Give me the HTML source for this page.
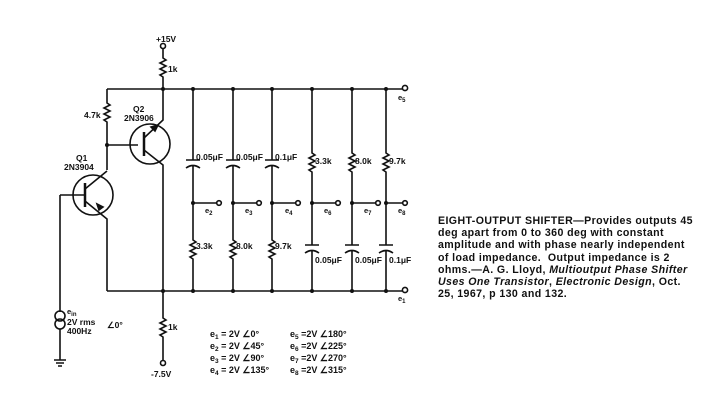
<!DOCTYPE html>
<html><head><style>
html,body{margin:0;padding:0;background:#fff;}
.cap{position:absolute;left:438px;top:215px;font:bold 10.6px/12.2px "Liberation Sans",sans-serif;color:#111;white-space:nowrap;letter-spacing:0.4px}
</style></head><body>
<div style="position:relative;width:714px;height:420px;overflow:hidden">
<svg width="714" height="420" style="position:absolute;left:0;top:0" font-family="Liberation Sans, sans-serif" font-weight="bold" fill="none" stroke="#111" stroke-width="1.6">
<line x1="107" y1="89" x2="402" y2="89"/>
<line x1="107" y1="291" x2="402" y2="291"/>
<circle cx="405" cy="88" r="2.6" fill="#fff"/>
<circle cx="405" cy="290" r="2.6" fill="#fff"/>
<circle cx="163" cy="46" r="2.5" fill="#fff"/>
<path d="M163 48.5V58 l3 2 -6 3 6 3 -6 3 6 3 -6 3 3 2 V89"/>
<path d="M107 89V103 l3 2 -6 3 6 3 -6 3 6 3 -6 3 3 2 V170"/>
<line x1="107" y1="145" x2="138" y2="145"/>
<circle cx="150" cy="144" r="20"/>
<line x1="144" y1="132" x2="144" y2="156" stroke-width="2.5"/>
<path d="M144 138 L163 120 V89"/>
<path d="M144 150 L163 165 V291"/>
<path d="M155 131 l3 -6 l-7 2z" fill="#111"/>
<circle cx="93" cy="195" r="20"/>
<line x1="85" y1="183" x2="85" y2="207" stroke-width="2.5"/>
<path d="M60 195 H85"/>
<path d="M85 189 L107 171"/>
<path d="M85 201 L107 219 V291"/>
<path d="M99 210 l-2 -6 l6 3z" fill="#111"/>
<path d="M60 195 V312"/>
<circle cx="60" cy="316" r="5"/><circle cx="60" cy="324" r="5"/>
<path d="M60 329 V360"/>
<path d="M54 360h12M56 363h8M58 366h4"/>
<path d="M163 291 V318 l3 2 -6 3 6 3 -6 3 6 3 -6 3 3 2 V360"/>
<circle cx="163" cy="363" r="2.5" fill="#fff"/>
<g fill="#111" stroke="none">
<circle cx="163" cy="89" r="2"/><circle cx="107" cy="145" r="2"/><circle cx="163" cy="291" r="2"/>
<circle cx="193" cy="89" r="2"/><circle cx="233" cy="89" r="2"/><circle cx="272" cy="89" r="2"/><circle cx="312" cy="89" r="2"/><circle cx="352" cy="89" r="2"/><circle cx="386" cy="89" r="2"/>
<circle cx="193" cy="291" r="2"/><circle cx="233" cy="291" r="2"/><circle cx="272" cy="291" r="2"/><circle cx="312" cy="291" r="2"/><circle cx="352" cy="291" r="2"/><circle cx="386" cy="291" r="2"/>
<circle cx="193" cy="203" r="2"/><circle cx="233" cy="203" r="2"/><circle cx="272" cy="203" r="2"/><circle cx="312" cy="203" r="2"/><circle cx="352" cy="203" r="2"/><circle cx="386" cy="203" r="2"/>
</g>
<g id="c1">
<path d="M193 89V160 M186 160h14 M186 168 q7 -5 14 0 M193 165V240 l3 2 -6 3 6 3 -6 3 6 3 -6 3 3 2 V291"/>
<path d="M193 203h24"/><circle cx="219" cy="203" r="2.3" fill="#fff"/>
</g>
<use href="#c1" x="40"/><use href="#c1" x="79"/>
<g id="c4">
<path d="M312 89V153 l3 2 -6 3 6 3 -6 3 6 3 -6 3 3 2 V245 M305 245h14 M305 253 q7 -5 14 0 M312 250V291"/>
<path d="M312 203h24"/><circle cx="338" cy="203" r="2.3" fill="#fff"/>
</g>
<use href="#c4" x="40"/>
<path d="M386 89V153 l3 2 -6 3 6 3 -6 3 6 3 -6 3 3 2 V245 M379 245h14 M379 253 q7 -5 14 0 M386 250V291 M386 203h17"/><circle cx="405" cy="203" r="2.3" fill="#fff"/>
<g fill="#111" stroke="none" font-size="8.5">
<text x="156" y="42">+15V</text>
<text x="168" y="72">1k</text>
<text x="84" y="118">4.7k</text>
<text x="133" y="112">Q2</text>
<text x="124" y="121">2N3906</text>
<text x="76" y="161">Q1</text>
<text x="64" y="170">2N3904</text>
<text x="168" y="330">1k</text>
<text x="151" y="377">-7.5V</text>
<text x="67" y="314" font-size="7.5">e<tspan font-size="6" dy="2">in</tspan></text>
<text x="67" y="325">2V rms</text>
<text x="67" y="334">400Hz</text>
<text x="107" y="328">∠0°</text>
<text x="196" y="160">0.05μF</text><text x="236" y="160">0.05μF</text><text x="275" y="160">0.1μF</text>
<text x="196" y="249">3.3k</text><text x="236" y="249">8.0k</text><text x="275" y="249">9.7k</text>
<text x="315" y="164">3.3k</text><text x="355" y="164">8.0k</text><text x="389" y="164">9.7k</text>
<text x="315" y="263">0.05μF</text><text x="355" y="263">0.05μF</text><text x="389" y="263">0.1μF</text>
<g font-size="7.5">
<text x="205" y="213">e<tspan font-size="6" dy="2">2</tspan></text>
<text x="245" y="213">e<tspan font-size="6" dy="2">3</tspan></text>
<text x="285" y="213">e<tspan font-size="6" dy="2">4</tspan></text>
<text x="324" y="213">e<tspan font-size="6" dy="2">6</tspan></text>
<text x="364" y="213">e<tspan font-size="6" dy="2">7</tspan></text>
<text x="398" y="213">e<tspan font-size="6" dy="2">8</tspan></text>
<text x="398" y="100">e<tspan font-size="6" dy="2">5</tspan></text>
<text x="398" y="301">e<tspan font-size="6" dy="2">1</tspan></text>
</g>
<g font-size="9">
<text x="210" y="337">e<tspan font-size="6.5" dy="2">1</tspan><tspan dy="-2"> = 2V ∠0°</tspan></text>
<text x="210" y="349">e<tspan font-size="6.5" dy="2">2</tspan><tspan dy="-2"> = 2V ∠45°</tspan></text>
<text x="210" y="361">e<tspan font-size="6.5" dy="2">3</tspan><tspan dy="-2"> = 2V ∠90°</tspan></text>
<text x="210" y="373">e<tspan font-size="6.5" dy="2">4</tspan><tspan dy="-2"> = 2V ∠135°</tspan></text>
<text x="290" y="337">e<tspan font-size="6.5" dy="2">5</tspan><tspan dy="-2"> =2V ∠180°</tspan></text>
<text x="290" y="349">e<tspan font-size="6.5" dy="2">6</tspan><tspan dy="-2"> =2V ∠225°</tspan></text>
<text x="290" y="361">e<tspan font-size="6.5" dy="2">7</tspan><tspan dy="-2"> =2V ∠270°</tspan></text>
<text x="290" y="373">e<tspan font-size="6.5" dy="2">8</tspan><tspan dy="-2"> =2V ∠315°</tspan></text>
</g>
</g>
</svg>
<div class="cap">EIGHT-OUTPUT SHIFTER—Provides outputs 45<br>deg apart from 0 to 360 deg with constant<br>amplitude and with phase nearly independent<br>of load impedance.&nbsp; Output impedance is 2<br>ohms.—A. G. Lloyd, <i>Multioutput Phase Shifter</i><br><i>Uses One Transistor</i>, <i>Electronic Design</i>, Oct.<br>25, 1967, p 130 and 132.</div>
</div>
</body></html>
